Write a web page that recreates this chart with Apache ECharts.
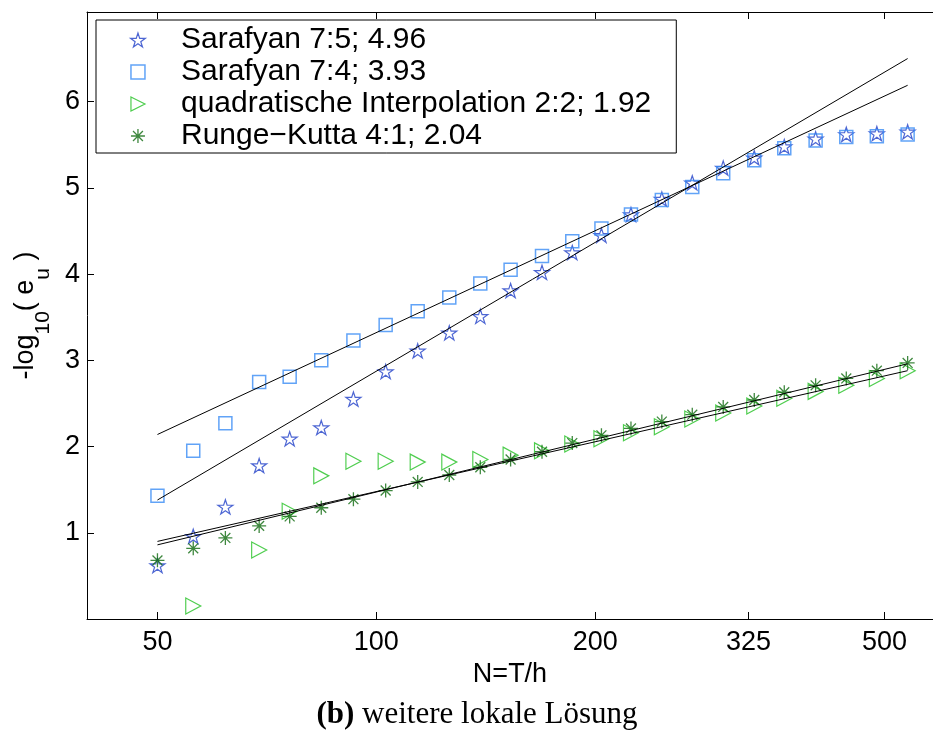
<!DOCTYPE html>
<html><head><meta charset="utf-8">
<script src="https://cdn.jsdelivr.net/npm/echarts@6/dist/echarts.min.js"></script>
<style>html,body{margin:0;padding:0;background:#fff}#c{width:933px;height:731px}</style>
</head><body><div id="c"></div>
<script>
// ---- data ----
const N = [50,56,62,69,76,84,93,103,114,126,139,153,169,186,204,224,247,272,300,331,364,402,443,488,538];
const sarafyan75 = [0.62,0.96,1.30,1.78,2.09,2.22,2.55,2.87,3.11,3.32,3.51,3.81,4.02,4.25,4.45,4.69,4.87,5.06,5.23,5.35,5.48,5.57,5.62,5.63,5.65];
const sarafyan74 = [1.43,1.95,2.27,2.75,2.81,3.00,3.23,3.41,3.57,3.73,3.89,4.05,4.21,4.38,4.53,4.69,4.86,5.01,5.17,5.32,5.46,5.55,5.59,5.60,5.62];
const quadInterp = [null,0.15,null,0.80,1.25,1.66,1.83,1.83,1.82,1.82,1.85,1.90,1.95,2.03,2.09,2.16,2.23,2.32,2.39,2.47,2.56,2.64,2.71,2.79,2.88];
const rungeKutta = [0.68,0.82,0.94,1.08,1.19,1.29,1.39,1.49,1.59,1.67,1.76,1.85,1.94,2.04,2.13,2.21,2.29,2.37,2.46,2.54,2.63,2.71,2.79,2.88,2.97];
// fitted lines: value at first N and at last N
const fitSarafyan75 = [1.38, 6.50];
const fitSarafyan74 = [2.14, 6.19];
const fitQuad = [0.90, 2.88];
const fitRK = [0.86, 2.96];
const seriesNames = ['Sarafyan 7:5; 4.96', 'Sarafyan 7:4; 3.93', 'quadratische Interpolation 2:2; 1.92', 'Runge\u2212Kutta 4:1; 2.04'];
const xTicks = [50,100,200,325,500];
const yTicks = [1,2,3,4,5,6];
const xTitle = 'N=T/h';
const caption = '(b)';
const captionRest = ' weitere lokale Lösung';

// ---- symbols ----
function starPath(){
  let s = 'path://';
  for (let i = 0; i < 10; i++) {
    const r = i % 2 === 0 ? 1 : 0.382;
    const a = -Math.PI/2 + i*Math.PI/5;
    s += (i === 0 ? 'M' : 'L') + (r*Math.cos(a)).toFixed(4) + ',' + (r*Math.sin(a)).toFixed(4);
  }
  return s + 'Z';
}
const SYM_STAR = starPath();
const SYM_SQUARE = 'path://M0,0L1,0L1,1L0,1Z';
const SYM_TRI = 'path://M0,0L1,0.5L0,1Z';
const SYM_AST = 'path://M0,-1L0,1M-1,0L1,0M-0.707,-0.707L0.707,0.707M-0.707,0.707L0.707,-0.707';

const FONT = 'Liberation Sans';
const STY = [
  { sym: SYM_STAR, size: 15, col: '#2040c8', bw: 1.2 },
  { sym: SYM_SQUARE, size: 13, col: '#3a8cf5', bw: 1.5 },
  { sym: SYM_TRI, size: [15, 16], col: '#22c022', bw: 1.2 },
  { sym: SYM_AST, size: 14, col: '#0f6a0f', bw: 1.3 }
];
function pts(arr){ return N.map((n,i) => [n, arr[i]]); }
function fit(f){ return [[N[0], f[0]], [N[N.length-1], f[1]]]; }

function scatter(i, arr){
  const s = STY[i];
  return {
    type: 'scatter', name: seriesNames[i], data: pts(arr), symbol: s.sym, symbolSize: s.size,
    symbolKeepAspect: true,
    itemStyle: { color: 'rgba(0,0,0,0)', borderColor: s.col, borderWidth: s.bw },
    emphasis: { disabled: true }, z: 3
  };
}
function fitLine(f){
  return {
    type: 'line', data: fit(f), symbol: 'none', silent: true,
    lineStyle: { color: '#000', width: 1 }, z: 4
  };
}

const chart = echarts.init(document.getElementById('c'), null, {renderer: 'canvas'});
chart.setOption({
  animation: false,
  backgroundColor: '#fff',
  grid: { left: 87, top: 12, right: 0, bottom: 112 },
  xAxis: [{
    type: 'log', logBase: 10, min: 40, max: 583, position: 'bottom',
    name: xTitle, nameLocation: 'middle', nameGap: 31,
    nameTextStyle: { fontSize: 27, fontFamily: FONT, color: '#000' },
    axisLine: { show: true, lineStyle: { color: '#000', width: 1 } },
    axisTick: { show: true, inside: true, length: 7, customValues: xTicks, lineStyle: { color: '#000' } },
    axisLabel: { show: true, customValues: xTicks, fontSize: 27, fontFamily: FONT, color: '#000', margin: 10,
      formatter: v => String(Math.round(v)) },
    splitLine: { show: false }, minorTick: { show: false }
  }, {
    type: 'log', logBase: 10, min: 40, max: 583, position: 'top',
    axisLine: { show: true, lineStyle: { color: '#000', width: 1 } },
    axisTick: { show: true, inside: true, length: 7, customValues: xTicks, lineStyle: { color: '#000' } },
    axisLabel: { show: false }, splitLine: { show: false }
  }],
  yAxis: [{
    type: 'value', min: 0, max: 7.04,
    name: '{m|-log}{s|10}{m|( e}{s|u}{m| )}', nameLocation: 'middle', nameRotate: 90, nameGap: 33,
    nameTextStyle: { rich: {
      m: { fontSize: 27, fontFamily: FONT, color: '#000' },
      s: { fontSize: 21, fontFamily: FONT, color: '#000', padding: [36, 0, 0, 0] }
    } },
    axisLine: { show: true, lineStyle: { color: '#000', width: 1 } },
    axisTick: { show: true, inside: true, length: 7, customValues: yTicks, lineStyle: { color: '#000' } },
    axisLabel: { show: true, customValues: yTicks, fontSize: 27, fontFamily: FONT, color: '#000', margin: 7 },
    splitLine: { show: false }
  }],
  legend: {
    data: seriesNames.map((n, i) => ({
      name: n, icon: STY[i].sym,
      itemStyle: { color: 'rgba(0,0,0,0)', borderColor: STY[i].col, borderWidth: STY[i].bw }
    })),
    orient: 'vertical', left: 96, top: 20,
    padding: [5, 25, 2, 34], itemGap: 2, itemWidth: 76, itemHeight: 14,
    borderColor: '#000', borderWidth: 1, backgroundColor: '#fff',
    textStyle: { fontSize: 30, fontFamily: FONT, color: '#000', lineHeight: 30 },
    selectedMode: false
  },
  graphic: [{
    type: 'text', x: 477, y: 715,
    style: {
      text: '{b|' + caption + '}{r|' + captionRest + '}',
      align: 'center', verticalAlign: 'middle',
      rich: {
        b: { fontSize: 31, fontFamily: 'Liberation Serif', fontWeight: 'bold', fill: '#000' },
        r: { fontSize: 31, fontFamily: 'Liberation Serif', fill: '#000' }
      }
    }
  }],
  series: [
    scatter(0, sarafyan75), scatter(1, sarafyan74), scatter(2, quadInterp), scatter(3, rungeKutta),
    fitLine(fitSarafyan75), fitLine(fitSarafyan74), fitLine(fitQuad), fitLine(fitRK)
  ]
});
</script></body></html>
